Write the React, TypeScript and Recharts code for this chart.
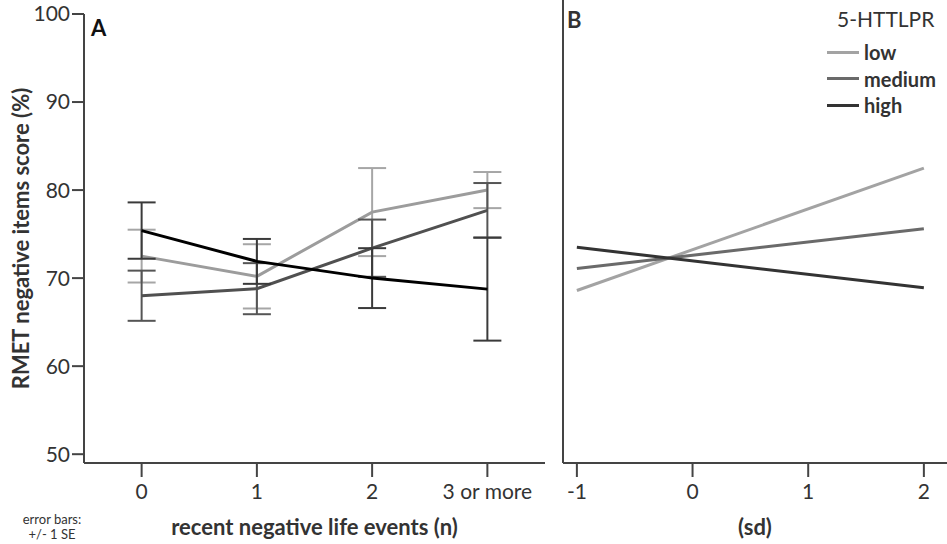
import { LineChart, Line, XAxis, YAxis, ErrorBar, Legend } from 'recharts';

// panel A: means and SE per life-event count
const eventCats = [0, 1, 2, 3];
const eventLabels = ['0', '1', '2', '3 or more'];
const lowMeanA = [72.5, 70.2, 77.5, 80.0];
const lowSeA = [3.0, 3.65, 5.0, 2.05];
const medMeanA = [68.0, 68.8, 73.4, 77.7];
const medSeA = [2.85, 2.9, 3.25, 3.1];
const highMeanA = [75.4, 71.9, 70.0, 68.75];
const highSeA = [3.2, 2.55, 3.4, 5.85];
const yTicksA = [50, 60, 70, 80, 90, 100];

// panel B: fitted lines over (sd)
const sdPoints = [-1, 2];
const sdTicks = [-1, 0, 1, 2];
const lowB = [68.6, 82.5];
const medB = [71.1, 75.6];
const highB = [73.5, 68.9];

const legendItems = [
  { name: 'low', color: '#a3a3a3' },
  { name: 'medium', color: '#6a6a6a' },
  { name: 'high', color: '#333333' },
];

const FONT = 'Lato, sans-serif';
const AXIS = '#444';

const dataA = eventCats.map((x, i) => ({
  x,
  low: lowMeanA[i],
  lowErr: lowSeA[i],
  med: medMeanA[i],
  medErr: medSeA[i],
  high: highMeanA[i],
  highErr: highSeA[i],
}));

const dataB = sdPoints.map((x, i) => ({ x, low: lowB[i], med: medB[i], high: highB[i] }));

const tickStyle = { fontSize: 21, fill: '#333', fontFamily: FONT };
const titleStyle = { fontSize: 22, fontWeight: 700, fill: '#333', fontFamily: FONT };

function renderLegend() {
  return (
    <div style={{ fontFamily: FONT, color: '#333' }}>
      <div style={{ fontSize: 21, marginLeft: 10, lineHeight: '34px' }}>5-HTTLPR</div>
      <div style={{ height: 3 }} />
      {legendItems.map((it) => (
        <div key={it.name} style={{ display: 'flex', alignItems: 'center', height: 26.5 }}>
          <div style={{ width: 32, height: 3, background: it.color, marginRight: 5 }} />
          <span style={{ fontSize: 20, fontWeight: 700 }}>{it.name}</span>
        </div>
      ))}
    </div>
  );
}

export default function App() {
  return (
    <div style={{ position: 'absolute', left: 0, top: 0, width: 947, height: 544, background: '#fff', fontFamily: FONT }}>
      <div style={{ position: 'absolute', left: 0, top: 0 }}>
        <LineChart width={560} height={544} data={dataA} margin={{ top: 14, right: 15, bottom: 0, left: 0 }}>
          <XAxis
            dataKey="x"
            type="number"
            domain={[-0.5, 3.5]}
            ticks={eventCats}
            interval={0}
            tickFormatter={(v: number) => eventLabels[v]}
            height={81}
            tickSize={14}
            tickMargin={7}
            tick={tickStyle}
            axisLine={{ stroke: AXIS, strokeWidth: 2 }}
            tickLine={{ stroke: AXIS, strokeWidth: 2 }}
            label={{ value: 'recent negative life events (n)', position: 'insideBottom', offset: 9, style: titleStyle }}
          />
          <YAxis
            type="number"
            domain={[49, 100]}
            ticks={yTicksA}
            interval={0}
            width={84}
            tickSize={12}
            tick={tickStyle}
            axisLine={{ stroke: AXIS, strokeWidth: 2 }}
            tickLine={{ stroke: AXIS, strokeWidth: 2 }}
            label={{
              value: 'RMET negative items score (%)',
              angle: -90,
              position: 'insideLeft',
              offset: 21,
              style: { ...titleStyle, textAnchor: 'middle' },
            }}
          />
          <Line dataKey="low" stroke="#9c9c9c" strokeWidth={3} dot={false} isAnimationActive={false}>
            <ErrorBar dataKey="lowErr" direction="y" width={14} stroke="#a6a6a6" strokeWidth={2} />
          </Line>
          <Line dataKey="med" stroke="#505050" strokeWidth={3} dot={false} isAnimationActive={false}>
            <ErrorBar dataKey="medErr" direction="y" width={14} stroke="#555" strokeWidth={2} />
          </Line>
          <Line dataKey="high" stroke="#000" strokeWidth={3} dot={false} isAnimationActive={false}>
            <ErrorBar dataKey="highErr" direction="y" width={14} stroke="#3a3a3a" strokeWidth={2} />
          </Line>
        </LineChart>
      </div>

      <div style={{ position: 'absolute', left: 548, top: 0 }}>
        <LineChart width={399} height={544} data={dataB} margin={{ top: 0, right: 0, bottom: 0, left: 0 }}>
          <XAxis
            dataKey="x"
            type="number"
            domain={[-1.12, 2.2]}
            ticks={sdTicks}
            interval={0}
            height={81}
            tickSize={14}
            tickMargin={7}
            tick={tickStyle}
            axisLine={{ stroke: AXIS, strokeWidth: 2 }}
            tickLine={{ stroke: AXIS, strokeWidth: 2 }}
            label={{ value: '(sd)', position: 'insideBottom', offset: 9, style: titleStyle }}
          />
          <YAxis
            type="number"
            domain={[49, 101.6]}
            width={15}
            tick={false}
            tickLine={false}
            axisLine={{ stroke: AXIS, strokeWidth: 2 }}
          />
          <Legend
            content={renderLegend}
            layout="horizontal"
            verticalAlign="middle"
            align="center"
            wrapperStyle={{ top: 2, left: 279, width: 130 }}
          />
          <Line dataKey="low" stroke={legendItems[0].color} strokeWidth={3} dot={false} isAnimationActive={false} />
          <Line dataKey="med" stroke={legendItems[1].color} strokeWidth={3} dot={false} isAnimationActive={false} />
          <Line dataKey="high" stroke={legendItems[2].color} strokeWidth={3} dot={false} isAnimationActive={false} />
        </LineChart>
      </div>

      <div style={{ position: 'absolute', left: 91, top: 14, fontSize: 22, fontWeight: 700, color: '#111' }}>A</div>
      <div style={{ position: 'absolute', left: 567, top: 6, fontSize: 22, fontWeight: 700, color: '#333' }}>B</div>
      <div style={{ position: 'absolute', left: 2, top: 512, width: 100, textAlign: 'center', fontSize: 13, lineHeight: '15px', color: '#333' }}>
        error bars:
        <br />
        +/- 1 SE
      </div>
    </div>
  );
}
